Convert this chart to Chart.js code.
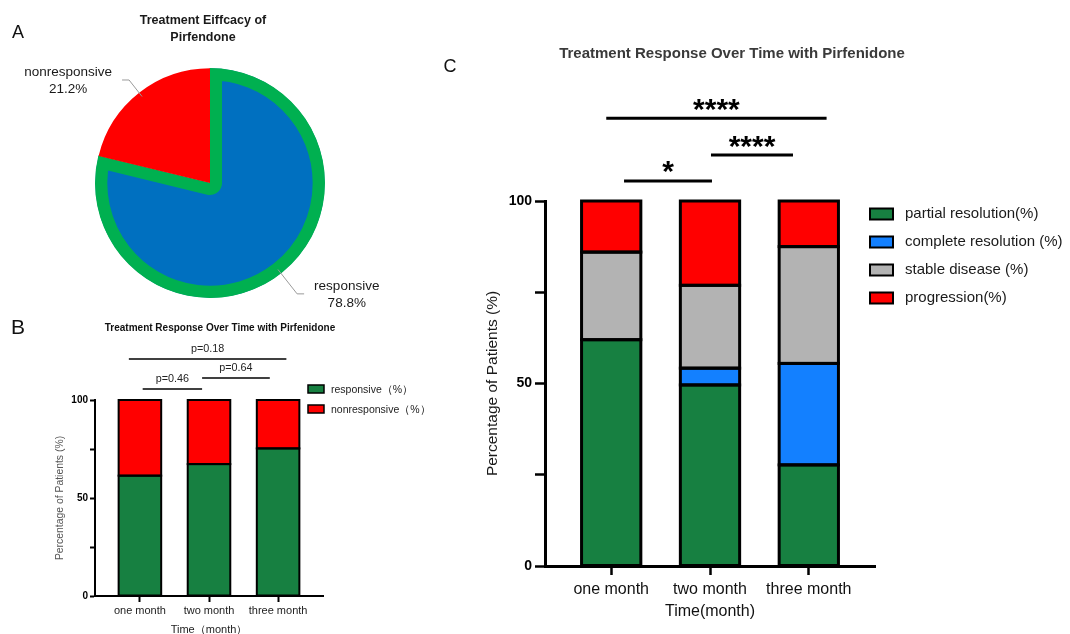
<!DOCTYPE html>
<html><head><meta charset="utf-8">
<script src="https://cdn.jsdelivr.net/npm/chart.js@4"></script>
<style>
html,body{margin:0;padding:0;background:#fff;width:1070px;height:634px;overflow:hidden;}
.c{position:absolute;}
canvas{display:block;}
</style></head><body>
<div class="c" style="left:0;top:0;width:440px;height:310px"><canvas id="a" width="440" height="310"></canvas></div>
<div class="c" style="left:0;top:310px;width:440px;height:324px"><canvas id="b" width="440" height="324"></canvas></div>
<div class="c" style="left:440px;top:0;width:630px;height:634px"><canvas id="c" width="630" height="634"></canvas></div>
<script>
const FONT = "Arial, 'Liberation Sans', Helvetica, sans-serif";

// ---------- Panel A data ----------
const pieTitle = ['Treatment Eiffcacy of', 'Pirfendone'];
const pieLabels = ['responsive', 'nonresponsive'];
const pieValues = [78.8, 21.2];
const pieValueLabels = ['78.8%', '21.2%'];

// ---------- Panel B data ----------
const titleB = 'Treatment Response Over Time with Pirfenidone';
const timeCategories = ['one month', 'two month', 'three month'];
const responsiveB = [61.4, 67.3, 75.3];
const nonresponsiveB = [38.6, 32.7, 24.7];
const seriesNamesB = ['responsive（%）', 'nonresponsive（%）'];
const pLabelsB = ['p=0.46', 'p=0.64', 'p=0.18'];

// ---------- Panel C data ----------
const titleC = 'Treatment Response Over Time with Pirfenidone';
const partialResolution = [62, 49.6, 27.7];
const completeResolution = [0, 4.6, 27.8];
const stableDisease = [24, 22.7, 32];
const progression = [14, 23.1, 12.5];
const seriesNamesC = ['partial resolution(%)', 'complete resolution (%)', 'stable disease (%)', 'progression(%)'];
const sigLabelsC = ['****', '****', '*'];

// ---------- axis ticks ----------
const yTicks = [0, 25, 50, 75, 100];
const yLabeledTicks = [0, 50, 100];
const xTicks = [0, 1, 2];

const toXY = arr => arr.map((v, i) => ({x: i, y: v}));

function txt(ctx, s, x, y, font, color, align) {
  ctx.font = font; ctx.fillStyle = color || '#111';
  ctx.textAlign = align || 'center'; ctx.textBaseline = 'middle';
  ctx.fillText(s, x, y);
}
function glyphCentered(ctx, s, x, yc, font, color) {
  ctx.font = font; ctx.fillStyle = color; ctx.textAlign = 'center'; ctx.textBaseline = 'alphabetic';
  const m = ctx.measureText(s);
  const base = yc + (m.actualBoundingBoxAscent - m.actualBoundingBoxDescent) / 2;
  ctx.fillText(s, x, base);
}

// outline every bar segment (stroked from the library's own bar elements)
function outlinePlugin(lw) {
  return {
    id: 'outline',
    afterDatasetsDraw(chart) {
      const ctx = chart.ctx;
      ctx.save();
      ctx.strokeStyle = '#000'; ctx.lineWidth = lw; ctx.lineJoin = 'miter';
      chart.data.datasets.forEach((ds, i) => {
        const meta = chart.getDatasetMeta(i);
        if (meta.hidden) return;
        meta.data.forEach(el => {
          const {x, y, base, width} = el.getProps(['x', 'y', 'base', 'width'], true);
          const h = Math.abs(base - y);
          if (h < 0.01) return;
          ctx.strokeRect(x - width / 2, Math.min(y, base), width, h);
        });
      });
      ctx.restore();
    }
  };
}

// ---------- Panel A ----------
const pieAnnot = {
  id: 'pieAnnot',
  afterDraw(chart) {
    const ctx = chart.ctx;
    ctx.save();
    txt(ctx, 'A', 18, 33, `18px ${FONT}`, '#111');
    txt(ctx, pieTitle[0], 203, 21, `bold 12.5px ${FONT}`, '#1a1a1a');
    txt(ctx, pieTitle[1], 203, 38, `bold 12.5px ${FONT}`, '#1a1a1a');
    const meta = chart.getDatasetMeta(0);
    const ext = [26, 16];
    meta.data.forEach((arc, i) => {
      const mid = (arc.startAngle + arc.endAngle) / 2;
      const c = Math.cos(mid), s = Math.sin(mid);
      const r0 = arc.outerRadius - 5;
      const p0 = [arc.x + c * r0, arc.y + s * r0];
      const r1 = arc.outerRadius + ext[i];
      const p1 = [arc.x + c * r1, arc.y + s * r1];
      const dir = c >= 0 ? 1 : -1;
      const p2 = [p1[0] + dir * 7, p1[1]];
      ctx.strokeStyle = '#9a9a9a'; ctx.lineWidth = 1;
      ctx.beginPath(); ctx.moveTo(p0[0], p0[1]); ctx.lineTo(p1[0], p1[1]); ctx.lineTo(p2[0], p2[1]); ctx.stroke();
      ctx.font = `13.5px ${FONT}`;
      const w = Math.max(ctx.measureText(pieLabels[i]).width, ctx.measureText(pieValueLabels[i]).width);
      const tx = p2[0] + dir * (10 + w / 2);
      txt(ctx, pieLabels[i], tx, p2[1] - 7.5, `13.5px ${FONT}`, '#1a1a1a');
      txt(ctx, pieValueLabels[i], tx, p2[1] + 9, `13.5px ${FONT}`, '#1a1a1a');
    });
    ctx.restore();
  }
};
new Chart(document.getElementById('a'), {
  type: 'pie',
  data: {labels: pieLabels, datasets: [{
    data: pieValues,
    backgroundColor: ['#0070C0', '#FF0000'],
    borderColor: ['#00B050', '#FF0000'],
    borderWidth: [12, 0],
    borderAlign: 'inner',
    hoverBorderWidth: 0
  }]},
  options: {
    responsive: false, animation: false, devicePixelRatio: 1,
    layout: {padding: {left: 95, right: 115, top: 68, bottom: 12}},
    plugins: {legend: {display: false}, tooltip: {enabled: false}}
  },
  plugins: [pieAnnot]
});

// ---------- Panel B ----------
const annotB = {
  id: 'annotB',
  afterDraw(chart) {
    const {ctx, scales: {x, y}} = chart;
    ctx.save();
    txt(ctx, 'B', 18, 18, `21px ${FONT}`, '#111');
    txt(ctx, titleB, 220, 18, `bold 10px ${FONT}`, '#111');
    const br = [[0.04, 0.9, 105.6], [0.9, 1.88, 111.2], [-0.16, 2.12, 120.9]];
    br.forEach((b, i) => {
      const x0 = x.getPixelForValue(b[0]), x1 = x.getPixelForValue(b[1]), yy = y.getPixelForValue(b[2]);
      ctx.strokeStyle = '#000'; ctx.lineWidth = 1.5;
      ctx.beginPath(); ctx.moveTo(x0, yy); ctx.lineTo(x1, yy); ctx.stroke();
      txt(ctx, pLabelsB[i], (x0 + x1) / 2, yy - 10, `10.8px ${FONT}`, '#222');
    });
    chart.data.datasets.forEach((ds, i) => {
      const cy = 79 + i * 20;
      ctx.fillStyle = ds.backgroundColor; ctx.fillRect(308, cy - 4, 16, 8);
      ctx.strokeStyle = '#000'; ctx.lineWidth = 1.5; ctx.strokeRect(308, cy - 4, 16, 8);
      txt(ctx, ds.label, 331, cy + 1, `10.5px ${FONT}`, '#222', 'left');
    });
    ctx.restore();
  }
};
new Chart(document.getElementById('b'), {
  type: 'bar',
  data: {datasets: [
    {label: seriesNamesB[0], data: toXY(responsiveB), backgroundColor: '#178041'},
    {label: seriesNamesB[1], data: toXY(nonresponsiveB), backgroundColor: '#FF0000'}
  ]},
  options: {
    responsive: false, animation: false, devicePixelRatio: 1,
    layout: {padding: {left: 0, top: 90, right: 117, bottom: 0}},
    plugins: {legend: {display: false}, tooltip: {enabled: false}},
    datasets: {bar: {borderWidth: 0, inflateAmount: 0, categoryPercentage: 0.8, barPercentage: 0.77}},
    scales: {
      x: {type: 'linear', stacked: true, min: -0.65, max: 2.65, offset: false,
        afterBuildTicks(s) { s.ticks = xTicks.map(v => ({value: v})); },
        afterFit(s) { s.height = 38; },
        ticks: {callback: v => timeCategories[v] ?? '', font: {family: FONT, size: 11}, color: '#222', padding: 2, maxRotation: 0, autoSkip: false},
        grid: {display: true, drawOnChartArea: false, offset: false, tickLength: 6, tickWidth: 2, tickColor: '#000'},
        border: {display: true, color: '#000', width: 2},
        title: {display: true, text: 'Time（month）', font: {family: FONT, size: 11}, color: '#222', padding: {top: 0, bottom: -2.5}}
      },
      y: {stacked: true, min: 0, max: 100,
        afterBuildTicks(s) { s.ticks = yTicks.map(v => ({value: v})); },
        afterFit(s) { s.width = 95; },
        ticks: {callback: v => yLabeledTicks.includes(v) ? String(v) : '', font: {family: FONT, size: 10, weight: 'bold'}, color: '#000', padding: 2},
        grid: {drawOnChartArea: false, tickLength: 5, tickWidth: 2, tickColor: '#000'},
        border: {color: '#000', width: 2},
        title: {display: true, text: 'Percentage of Patients (%)', font: {family: FONT, size: 10.4}, color: '#555', padding: {top: 54, bottom: 0}}
      }
    }
  },
  plugins: [outlinePlugin(2), annotB]
});

// ---------- Panel C ----------
const annotC = {
  id: 'annotC',
  afterDraw(chart) {
    const {ctx, scales: {x, y}} = chart;
    ctx.save();
    txt(ctx, 'C', 10, 67, `18px ${FONT}`, '#111');
    txt(ctx, titleC, 292, 54, `bold 15px ${FONT}`, '#3a3a3a');
    const br = [[-0.05, 2.18, 122.7, 13], [1.01, 1.84, 112.6, 13], [0.13, 1.02, 105.5, 14]];
    br.forEach((b, i) => {
      const x0 = x.getPixelForValue(b[0]), x1 = x.getPixelForValue(b[1]), yy = y.getPixelForValue(b[2]);
      ctx.strokeStyle = '#000'; ctx.lineWidth = 3;
      ctx.beginPath(); ctx.moveTo(x0, yy); ctx.lineTo(x1, yy); ctx.stroke();
      glyphCentered(ctx, sigLabelsC[i], (x0 + x1) / 2, yy - b[3], `bold 30px ${FONT}`, '#000');
    });
    chart.data.datasets.forEach((ds, i) => {
      const cy = 214 + i * 28;
      ctx.fillStyle = ds.backgroundColor; ctx.fillRect(430, cy - 5.5, 23, 11);
      ctx.strokeStyle = '#000'; ctx.lineWidth = 2; ctx.strokeRect(430, cy - 5.5, 23, 11);
      txt(ctx, ds.label, 465, cy, `15px ${FONT}`, '#1a1a1a', 'left');
    });
    ctx.restore();
  }
};
new Chart(document.getElementById('c'), {
  type: 'bar',
  data: {datasets: [
    {label: seriesNamesC[0], data: toXY(partialResolution), backgroundColor: '#178041'},
    {label: seriesNamesC[1], data: toXY(completeResolution), backgroundColor: '#1380FF'},
    {label: seriesNamesC[2], data: toXY(stableDisease), backgroundColor: '#B3B3B3'},
    {label: seriesNamesC[3], data: toXY(progression), backgroundColor: '#FF0000'}
  ]},
  options: {
    responsive: false, animation: false, devicePixelRatio: 1,
    layout: {padding: {left: 0, top: 201, right: 195, bottom: 0}},
    plugins: {legend: {display: false}, tooltip: {enabled: false}},
    datasets: {bar: {borderWidth: 0, inflateAmount: 0, categoryPercentage: 0.8, barPercentage: 0.75}},
    scales: {
      x: {type: 'linear', stacked: true, min: -0.67, max: 2.67, offset: false,
        afterBuildTicks(s) { s.ticks = xTicks.map(v => ({value: v})); },
        afterFit(s) { s.height = 68; },
        ticks: {callback: v => timeCategories[v] ?? '', font: {family: FONT, size: 16}, color: '#111', padding: 5, maxRotation: 0, autoSkip: false},
        grid: {display: true, drawOnChartArea: false, offset: false, tickLength: 9, tickWidth: 2.5, tickColor: '#000'},
        border: {display: true, color: '#000', width: 3},
        title: {display: true, text: 'Time(month)', font: {family: FONT, size: 16}, color: '#111', padding: {top: 0, bottom: 13}}
      },
      y: {stacked: true, min: 0, max: 100,
        afterBuildTicks(s) { s.ticks = yTicks.map(v => ({value: v})); },
        afterFit(s) { s.width = 105; },
        ticks: {callback: v => yLabeledTicks.includes(v) ? String(v) : '', font: {family: FONT, size: 14, weight: 'bold'}, color: '#000', padding: 3},
        grid: {drawOnChartArea: false, tickLength: 10, tickWidth: 2.5, tickColor: '#000'},
        border: {color: '#000', width: 3},
        title: {display: true, text: 'Percentage of Patients (%)', font: {family: FONT, size: 15.5}, color: '#1a1a1a', padding: {top: 43, bottom: 0}}
      }
    }
  },
  plugins: [outlinePlugin(3), annotC]
});
</script>
</body></html>
